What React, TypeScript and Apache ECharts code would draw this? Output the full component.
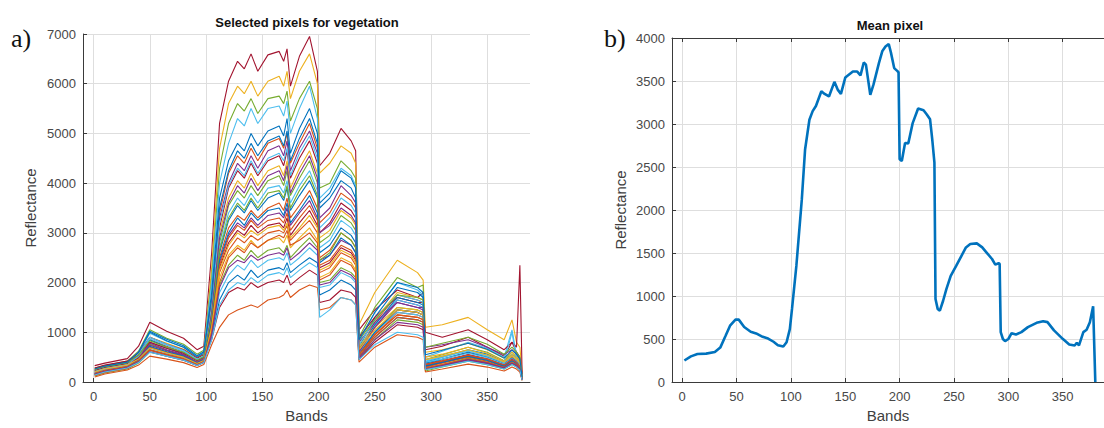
import React, { useEffect, useRef } from "react";
import * as echarts from "echarts";

// Bands at which the vegetation spectra are sampled
const BANDS = [1, 10, 30, 40, 50, 65, 80, 92, 98, 105, 112, 120, 128, 134, 140, 146, 155, 165, 169, 172, 175, 183, 192, 199, 201, 210, 220, 229, 233, 236, 250, 270, 288, 293, 295, 310, 333, 350, 365, 372, 376, 379, 381];

const CURVE_01 = [330, 380, 470, 720, 1200, 1020, 880, 650, 720, 2600, 5200, 6050, 6450, 6300, 6600, 6250, 6580, 6650, 6450, 6700, 5950, 6550, 6950, 6250, 4350, 4600, 5100, 4850, 4650, 1050, 1450, 1850, 1700, 1800, 650, 720, 900, 700, 520, 800, 600, 500, 150];
const CURVE_02 = [250, 300, 380, 550, 900, 780, 660, 500, 560, 2300, 4700, 5600, 5950, 5800, 6050, 5750, 6050, 6150, 5950, 6250, 5700, 6250, 6600, 6000, 4200, 4400, 4750, 4600, 4400, 1150, 1800, 2450, 2200, 2050, 1100, 1150, 1300, 1050, 850, 1250, 800, 700, 200];
const CURVE_03 = [280, 330, 420, 620, 1050, 880, 760, 560, 640, 2100, 4300, 5200, 5600, 5450, 5700, 5400, 5700, 5750, 5600, 5850, 5250, 5700, 6050, 5500, 3900, 4000, 4450, 4250, 4100, 900, 1500, 2100, 1900, 1950, 450, 550, 700, 600, 430, 600, 500, 420, 100];
const CURVE_04 = [200, 260, 340, 560, 980, 820, 700, 520, 600, 2000, 4000, 4800, 5300, 5150, 5500, 5200, 5500, 5550, 5350, 5650, 5000, 5500, 5950, 5300, 3700, 3900, 4300, 4150, 3950, 800, 1400, 2000, 1850, 1750, 500, 620, 800, 680, 500, 1050, 550, 450, 120];
const CURVE_05 = [230, 290, 370, 600, 1000, 830, 700, 500, 580, 1800, 3700, 4450, 4800, 4650, 5000, 4750, 5050, 5150, 4950, 5300, 4600, 5100, 5500, 5000, 3500, 3700, 4050, 3900, 3700, 700, 1300, 1900, 1800, 1700, 400, 500, 650, 560, 420, 550, 480, 400, 90];
const CURVE_06 = [180, 240, 330, 520, 850, 720, 600, 430, 500, 1600, 3400, 4200, 4550, 4400, 4700, 4450, 4800, 4900, 4700, 5000, 4400, 4800, 5200, 4700, 3200, 3400, 3800, 3650, 3500, 650, 1200, 1750, 1650, 1600, 350, 450, 600, 500, 380, 500, 430, 350, 80];
const CURVE_07 = [150, 210, 290, 480, 800, 680, 560, 400, 470, 1600, 3300, 4000, 4400, 4250, 4550, 4300, 4650, 4750, 4550, 4850, 4250, 4700, 5050, 4600, 3300, 3500, 3950, 3750, 3600, 600, 1100, 1650, 1550, 1500, 300, 400, 520, 450, 330, 450, 400, 300, 60];
const CURVE_08 = [280, 340, 420, 580, 900, 760, 650, 480, 550, 1500, 3100, 3900, 4250, 4100, 4400, 4150, 4450, 4550, 4350, 4650, 4100, 4500, 4850, 4400, 3000, 3200, 3600, 3450, 3300, 900, 1300, 1700, 1600, 1600, 1000, 900, 1050, 850, 650, 800, 700, 2350, 150];
const CURVE_09 = [220, 280, 360, 500, 750, 640, 540, 400, 460, 1500, 3000, 3700, 4050, 3900, 4200, 3950, 4250, 4350, 4150, 4450, 3900, 4300, 4650, 4200, 2900, 3050, 3450, 3300, 3150, 750, 1250, 1800, 1700, 1650, 600, 650, 780, 650, 480, 600, 520, 430, 100];
const CURVE_10 = [170, 230, 310, 470, 760, 640, 540, 390, 450, 1400, 2800, 3550, 3850, 3700, 3950, 3750, 4050, 4150, 3950, 4250, 3750, 4100, 4450, 4000, 2800, 2950, 3350, 3200, 3050, 550, 1000, 1500, 1450, 1400, 280, 350, 480, 400, 300, 400, 350, 280, 60];
const CURVE_11 = [240, 300, 380, 560, 900, 760, 640, 460, 530, 1300, 2700, 3400, 3700, 3550, 3800, 3600, 3900, 3950, 3800, 4050, 3600, 3950, 4250, 3850, 2700, 2850, 3250, 3100, 2950, 700, 1150, 1650, 1550, 1500, 450, 520, 640, 540, 400, 1000, 460, 380, 90];
const CURVE_12 = [200, 260, 340, 520, 850, 700, 590, 430, 500, 1300, 2600, 3250, 3550, 3400, 3650, 3450, 3700, 3800, 3650, 3900, 3450, 3750, 4050, 3700, 2600, 2750, 3100, 2950, 2800, 650, 1150, 1700, 1600, 1550, 380, 460, 600, 500, 370, 480, 420, 340, 70];
const CURVE_13 = [150, 210, 300, 450, 700, 600, 500, 370, 430, 1250, 2500, 3100, 3350, 3250, 3450, 3300, 3500, 3600, 3450, 3700, 3300, 3550, 3850, 3500, 2500, 2650, 3000, 2850, 2700, 500, 950, 1400, 1350, 1300, 250, 330, 450, 380, 280, 380, 330, 260, 50];
const CURVE_14 = [190, 250, 330, 480, 780, 650, 550, 400, 470, 1200, 2400, 2950, 3200, 3100, 3300, 3150, 3350, 3400, 3300, 3500, 3150, 3400, 3650, 3300, 2450, 2550, 2850, 2750, 2600, 800, 1200, 1600, 1500, 1500, 700, 750, 850, 700, 550, 650, 560, 480, 120];
const CURVE_15 = [260, 320, 400, 540, 800, 680, 580, 430, 500, 1150, 2300, 2800, 3050, 2950, 3150, 3000, 3150, 3200, 3100, 3300, 2950, 3200, 3450, 3150, 2300, 2400, 2700, 2600, 2450, 600, 1000, 1450, 1400, 1350, 350, 420, 550, 460, 340, 450, 400, 320, 70];
const CURVE_16 = [140, 200, 280, 420, 650, 560, 470, 350, 410, 1100, 2200, 2650, 2900, 2800, 2950, 2850, 3000, 3050, 3000, 3150, 2850, 3050, 3250, 3000, 2200, 2300, 2600, 2500, 2350, 550, 950, 1350, 1300, 1250, 300, 380, 500, 420, 310, 420, 360, 290, 60];
const CURVE_17 = [210, 270, 350, 470, 700, 600, 510, 380, 440, 1050, 2100, 2550, 2750, 2650, 2850, 2700, 2850, 2900, 2800, 2950, 2700, 2900, 3100, 2850, 2100, 2200, 2500, 2400, 2250, 700, 1100, 1500, 1450, 1400, 500, 560, 700, 580, 420, 550, 480, 400, 90];
const CURVE_18 = [120, 180, 260, 380, 600, 520, 440, 330, 390, 1000, 1950, 2350, 2550, 2450, 2650, 2500, 2650, 2700, 2600, 2750, 2500, 2700, 2900, 2700, 2000, 2050, 2300, 2200, 2100, 450, 850, 1250, 1200, 1150, 220, 300, 420, 350, 260, 350, 300, 240, 40];
const CURVE_19 = [180, 240, 320, 440, 680, 580, 490, 370, 430, 950, 1800, 2150, 2350, 2250, 2450, 2300, 2450, 2500, 2450, 2600, 2350, 2500, 2700, 2550, 1900, 1950, 2200, 2100, 2000, 600, 1000, 1400, 1350, 1300, 400, 460, 580, 490, 360, 470, 410, 340, 80];
const CURVE_20 = [160, 220, 300, 420, 640, 550, 460, 350, 410, 900, 1650, 2000, 2150, 2050, 2250, 2100, 2250, 2300, 2250, 2400, 2200, 2350, 2500, 2400, 1750, 1850, 2050, 1950, 1850, 500, 900, 1300, 1250, 1200, 330, 400, 520, 440, 320, 430, 370, 300, 70];
const CURVE_21 = [230, 290, 370, 480, 700, 600, 510, 380, 440, 850, 1500, 1800, 1900, 1850, 2000, 1900, 2000, 2050, 2000, 2150, 1950, 2100, 2250, 2150, 1600, 1650, 1850, 1800, 1700, 450, 800, 1150, 1100, 1050, 260, 330, 440, 370, 270, 370, 320, 260, 50];
const CURVE_22 = [100, 160, 240, 340, 520, 460, 390, 290, 350, 750, 1100, 1350, 1450, 1500, 1550, 1500, 1650, 1700, 1750, 1850, 1700, 1850, 1950, 1900, 1450, 1500, 1700, 1650, 1550, 400, 700, 950, 900, 850, 200, 260, 360, 300, 220, 300, 260, 200, 30];
const CURVE_23 = [210, 270, 350, 520, 870, 740, 620, 450, 520, 1500, 3200, 3950, 4300, 4150, 4450, 4200, 4500, 4600, 4450, 4700, 4150, 4600, 4950, 4500, 3100, 3300, 3700, 3550, 3400, 750, 1250, 1750, 1650, 1600, 420, 500, 620, 520, 390, 520, 450, 370, 80];
const CURVE_24 = [170, 230, 310, 460, 740, 630, 530, 390, 450, 1400, 2900, 3600, 3950, 3800, 4100, 3850, 4150, 4250, 4050, 4350, 3800, 4200, 4550, 4100, 3000, 3150, 3500, 3350, 3200, 600, 1100, 1600, 1500, 1450, 330, 420, 540, 460, 340, 460, 400, 320, 70];
const CURVE_25 = [250, 310, 390, 540, 830, 700, 600, 440, 510, 1300, 2650, 3300, 3600, 3450, 3700, 3500, 3800, 3850, 3700, 3950, 3500, 3850, 4150, 3750, 2450, 2600, 3000, 2850, 2700, 850, 1250, 1750, 1700, 1650, 700, 780, 900, 760, 560, 700, 600, 500, 110];
const CURVE_26 = [160, 220, 300, 440, 720, 610, 520, 380, 440, 1200, 2450, 3000, 3300, 3150, 3400, 3250, 3450, 3500, 3350, 3600, 3200, 3450, 3750, 3400, 2400, 2550, 2900, 2750, 2600, 550, 1000, 1450, 1400, 1350, 320, 400, 520, 440, 320, 430, 380, 300, 60];
const CURVE_27 = [130, 190, 270, 400, 640, 550, 460, 340, 400, 1150, 2350, 2900, 3150, 3050, 3250, 3100, 3250, 3300, 3200, 3400, 3050, 3300, 3550, 3250, 2350, 2450, 2750, 2650, 2500, 500, 900, 1300, 1250, 1200, 280, 350, 460, 390, 290, 390, 340, 270, 50];
const CURVE_28 = [200, 260, 340, 460, 690, 590, 500, 370, 430, 1100, 2250, 2750, 3000, 2900, 3050, 2950, 3100, 3150, 3050, 3200, 2900, 3100, 3350, 3100, 2250, 2350, 2650, 2550, 2400, 650, 1050, 1450, 1400, 1350, 450, 520, 650, 540, 400, 520, 450, 380, 90];
const CURVE_29 = [170, 230, 310, 430, 650, 560, 470, 350, 410, 1000, 2000, 2500, 2700, 2600, 2800, 2700, 2850, 2950, 2900, 3050, 2750, 2850, 3000, 2800, 2050, 2150, 2450, 2350, 2200, 550, 950, 1350, 1300, 1250, 350, 420, 540, 460, 340, 450, 390, 310, 70];
const CURVE_30 = [150, 210, 290, 400, 610, 520, 440, 330, 390, 950, 1900, 2300, 2450, 2400, 2550, 2450, 2550, 2600, 2550, 2700, 2450, 2600, 2800, 2650, 1950, 2000, 2250, 2150, 2050, 480, 850, 1200, 1150, 1100, 260, 330, 450, 380, 280, 380, 330, 260, 50];
const CURVE_31 = [140, 200, 280, 390, 600, 520, 440, 330, 390, 850, 1550, 1850, 2000, 1950, 2100, 2000, 2150, 2200, 2150, 2300, 2100, 2250, 2400, 2300, 1300, 1450, 1700, 1650, 1550, 450, 750, 1000, 950, 900, 250, 310, 420, 350, 260, 350, 300, 240, 40];
const CURVE_32 = [260, 320, 400, 600, 1020, 860, 730, 530, 610, 1700, 3500, 4250, 4650, 4500, 4800, 4550, 4850, 4950, 4750, 5050, 4450, 4900, 5300, 4800, 3600, 3800, 4250, 4100, 3900, 850, 1400, 2000, 1900, 1800, 550, 640, 780, 660, 480, 640, 560, 460, 100];

const CURVES = [CURVE_01, CURVE_02, CURVE_03, CURVE_04, CURVE_05, CURVE_06, CURVE_07, CURVE_08, CURVE_09, CURVE_10, CURVE_11, CURVE_12, CURVE_13, CURVE_14, CURVE_15, CURVE_16, CURVE_17, CURVE_18, CURVE_19, CURVE_20, CURVE_21, CURVE_22, CURVE_23, CURVE_24, CURVE_25, CURVE_26, CURVE_27, CURVE_28, CURVE_29, CURVE_30, CURVE_31, CURVE_32];

const BLUE = "#0072BD", ORANGE = "#D95319", YELLOW = "#EDB120", PURPLE = "#7E2F8E", GREEN = "#77AC30", LIGHTBLUE = "#4DBEEE", DARKRED = "#A2142F";
const CURVE_COLORS = [DARKRED, YELLOW, GREEN, LIGHTBLUE, BLUE, ORANGE, PURPLE, DARKRED, YELLOW, GREEN, LIGHTBLUE, BLUE, ORANGE, PURPLE, DARKRED, ORANGE, YELLOW, GREEN, LIGHTBLUE, BLUE, DARKRED, ORANGE, LIGHTBLUE, PURPLE, GREEN, BLUE, ORANGE, YELLOW, ORANGE, PURPLE, LIGHTBLUE, BLUE];

// Mean pixel
const MEAN_BANDS = [2, 8, 14, 22, 30, 35, 40, 44, 49, 52, 57, 63, 68, 74, 79, 84, 88, 93, 96, 99, 101, 105, 110, 113, 117, 120, 123, 128, 131, 135, 140, 143, 146, 150, 157, 161, 164, 167, 169, 173, 176, 181, 184, 187, 190, 192, 195, 198, 199, 200, 202, 205, 208, 212, 217, 222, 225, 228, 230, 232, 233, 235, 237, 240, 243, 247, 252, 257, 261, 265, 271, 276, 280, 285, 288, 291, 292, 293, 295, 297, 300, 303, 307, 312, 318, 326, 332, 336, 342, 350, 356, 361, 363, 365, 369, 372, 375, 378, 380];
const MEAN_VALUES = [250, 298, 325, 330, 348, 400, 540, 655, 725, 725, 640, 585, 565, 525, 505, 468, 428, 413, 462, 615, 850, 1350, 2120, 2700, 3050, 3150, 3210, 3380, 3350, 3320, 3490, 3400, 3350, 3540, 3610, 3610, 3565, 3715, 3690, 3340, 3460, 3710, 3845, 3900, 3930, 3830, 3650, 3615, 3600, 2590, 2570, 2780, 2775, 3010, 3180, 3160, 3110, 3055, 2820, 2550, 965, 850, 830, 945, 1080, 1235, 1350, 1470, 1565, 1605, 1612, 1565, 1505, 1430, 1365, 1380, 1375, 580, 500, 475, 500, 568, 553, 580, 638, 688, 707, 696, 600, 502, 437, 425, 456, 425, 580, 607, 696, 880, 0];

const X_TICKS = [0, 50, 100, 150, 200, 250, 300, 350];

const FONT = "'Liberation Sans', Arial, Helvetica, sans-serif";
const AXIS_COLOR = "#3a3a3a";
const LABEL_COLOR = "#484848";
const GRID_COLOR = "#dedede";

export default function App() {
  const ref = useRef<HTMLDivElement>(null);

  useEffect(() => {
    if (!ref.current) return;
    const chart = echarts.init(ref.current, null, { renderer: "svg" });

    const xBase = (gridIndex: number) => ({
      type: "value",
      gridIndex,
      min: -9.4,
      max: 388,
      axisLine: { show: true, onZero: false, lineStyle: { color: AXIS_COLOR, width: 1 } },
      axisTick: { show: true, inside: true, length: 4, customValues: X_TICKS, lineStyle: { color: AXIS_COLOR } },
      axisLabel: { customValues: X_TICKS, color: LABEL_COLOR, fontSize: 13, fontFamily: FONT, margin: 8, formatter: (v: number) => String(v) },
      splitLine: { show: true, lineStyle: { color: GRID_COLOR, width: 1 } },
      name: "Bands",
      nameLocation: "middle",
      nameGap: 26,
      nameTextStyle: { color: "#404040", fontSize: 15, fontFamily: FONT },
    });

    const yBase = (gridIndex: number, max: number, interval: number, gap: number) => ({
      type: "value",
      gridIndex,
      min: 0,
      max,
      interval,
      axisLine: { show: true, onZero: false, lineStyle: { color: AXIS_COLOR, width: 1 } },
      axisTick: { show: true, inside: true, length: 4, lineStyle: { color: AXIS_COLOR } },
      axisLabel: { color: LABEL_COLOR, fontSize: 13, fontFamily: FONT, margin: 7, formatter: (v: number) => String(v) },
      splitLine: { show: true, lineStyle: { color: GRID_COLOR, width: 1 } },
      name: "Reflectance",
      nameLocation: "middle",
      nameGap: gap,
      nameTextStyle: { color: "#404040", fontSize: 15, fontFamily: FONT },
    });

    const curveSeries = CURVES.map((c, i) => ({
      type: "line",
      xAxisIndex: 0,
      yAxisIndex: 0,
      data: BANDS.map((b, j) => [b, c[j]]),
      symbol: "none",
      showSymbol: false,
      silent: true,
      lineStyle: { width: 1.1, color: CURVE_COLORS[i] },
      itemStyle: { color: CURVE_COLORS[i] },
    }));

    const option: any = {
      animation: false,
      backgroundColor: "#ffffff",
      grid: [
        { left: 83, top: 34, width: 447, height: 353, containLabel: false },
        { left: 672, top: 38, width: 436, height: 346, containLabel: false },
      ],
      xAxis: [
        xBase(0),
        xBase(1),
        {
          type: "value",
          gridIndex: 1,
          position: "top",
          min: -9.4,
          max: 388,
          axisLine: { show: true, onZero: false, lineStyle: { color: AXIS_COLOR, width: 1 } },
          axisTick: { show: true, inside: true, length: 4, customValues: X_TICKS, lineStyle: { color: AXIS_COLOR } },
          axisLabel: { show: false },
          splitLine: { show: false },
        },
      ],
      yAxis: [yBase(0, 7000, 1000, 45), yBase(1, 4000, 500, 44)],
      series: [
        ...curveSeries,
        {
          type: "line",
          xAxisIndex: 1,
          yAxisIndex: 1,
          data: MEAN_BANDS.map((b, j) => [b, MEAN_VALUES[j]]),
          symbol: "none",
          showSymbol: false,
          silent: true,
          lineStyle: { width: 2.6, color: BLUE },
          itemStyle: { color: BLUE },
        },
      ],
      graphic: [
        {
          type: "text",
          x: 307,
          y: 22,
          style: { text: "Selected pixels for vegetation", font: `bold 13px ${FONT}`, fill: "#111", textAlign: "center", textVerticalAlign: "middle" },
        },
        {
          type: "text",
          x: 890,
          y: 25,
          style: { text: "Mean pixel", font: `bold 13px ${FONT}`, fill: "#111", textAlign: "center", textVerticalAlign: "middle" },
        },
        {
          type: "text",
          x: 11,
          y: 38,
          style: { text: "a)", font: `26px 'Liberation Serif', 'DejaVu Serif', serif`, fill: "#111", textAlign: "left", textVerticalAlign: "middle" },
        },
        {
          type: "text",
          x: 604,
          y: 38,
          style: { text: "b)", font: `26px 'Liberation Serif', 'DejaVu Serif', serif`, fill: "#111", textAlign: "left", textVerticalAlign: "middle" },
        },
      ],
    };

    chart.setOption(option);
    return () => chart.dispose();
  }, []);

  return (
    <div
      ref={ref}
      style={{ position: "fixed", left: 0, top: 0, width: 1104, height: 428, background: "#fff" }}
    />
  );
}
